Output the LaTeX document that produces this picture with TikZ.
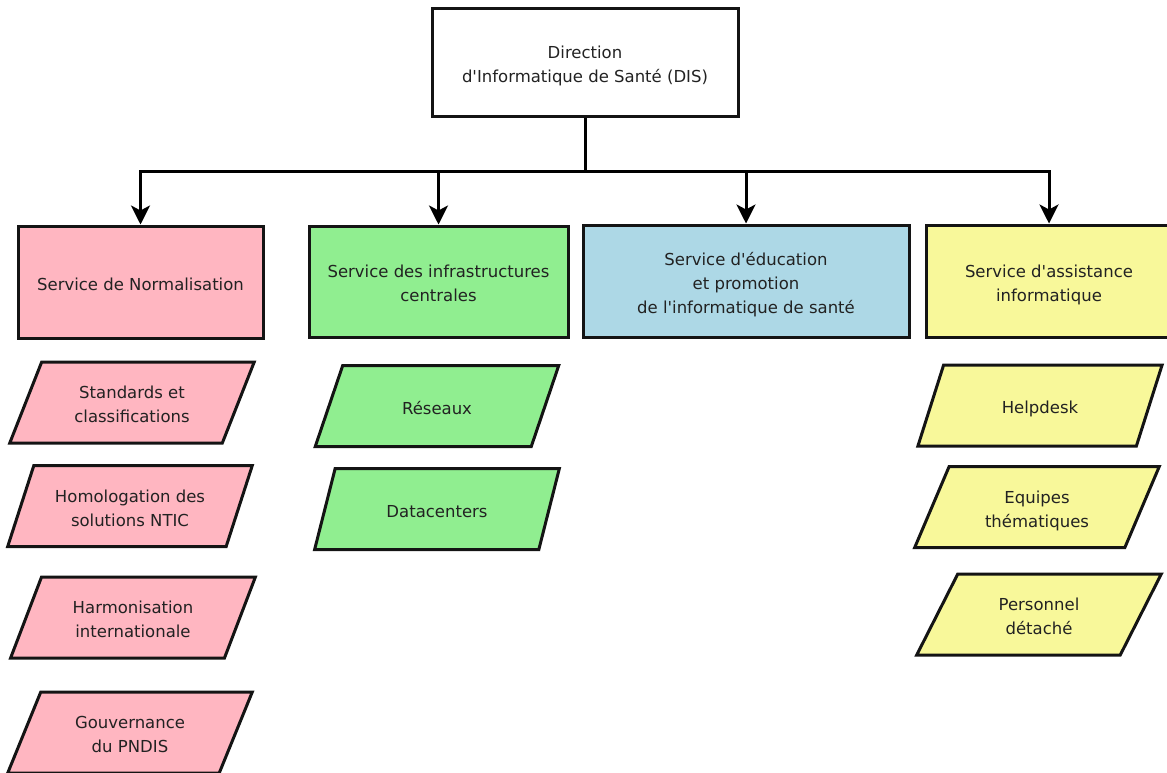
\documentclass[tikz,border=0pt]{standalone}
\usepackage{fontspec}
\setmainfont{DejaVu Sans}[Ligatures=TeXOff]
\usetikzlibrary{shapes.geometric,arrows.meta}

\definecolor{pinkfill}{HTML}{FFB6C1}
\definecolor{greenfill}{HTML}{90EE90}
\definecolor{bluefill}{HTML}{ADD8E6}
\definecolor{yellowfill}{HTML}{F8F89A}
\definecolor{inkline}{HTML}{141414}
\definecolor{inktext}{HTML}{222222}

% centred block of lines, set slightly below the node centre
\newcommand{\blocktext}[1]{\raisebox{-3.5pt}[\height][\depth]{\begin{tabular}{@{}c@{}}#1\end{tabular}}}

\tikzset{
  box/.style={draw=inkline, line width=3pt, rectangle,
    text=inktext, font=\fontsize{16.5}{24}\selectfont},
  unit/.style={draw=inkline, line width=3pt, trapezium,
    trapezium left angle=67, trapezium right angle=113,
    trapezium stretches=true, text=inktext,
    minimum width=245pt, minimum height=81pt, inner sep=0pt,
    font=\fontsize{16.5}{24}\selectfont},
  conn/.style={draw=black, line width=3pt},
  arrowconn/.style={conn, -{Stealth[length=19pt, width=19pt, inset=5pt]}},
}

\begin{document}
\begin{tikzpicture}[x=1pt, y=-1pt]
\useasboundingbox (0,0) rectangle (1167,772);

% Direction
\node[box, minimum width=306pt, minimum height=108pt] (dis) at (585,62)
  {\blocktext{Direction\\d'Informatique de Santé (DIS)}};

% Services
\node[box, fill=pinkfill, minimum width=245pt, minimum height=112pt] (norm) at (140.5,282)
  {\blocktext{Service de Normalisation}};
\node[box, fill=greenfill, minimum width=259pt, minimum height=111pt] (infra) at (438.5,281.5)
  {\blocktext{Service des infrastructures\\centrales}};
\node[box, fill=bluefill, minimum width=326pt, minimum height=112pt] (educ) at (746,281)
  {\blocktext{Service d'éducation\\et promotion\\de l'informatique de santé}};
\node[box, fill=yellowfill, minimum width=246pt, minimum height=112pt] (assist) at (1049,281)
  {\blocktext{Service d'assistance\\informatique}};

% Connectors
\coordinate (bus) at (585,171);
\draw[conn] (dis.south) -- (bus);
\draw[arrowconn] (bus) -| (norm.north);
\draw[arrowconn] (bus) -| (infra.north);
\draw[arrowconn] (bus) -| (educ.north);
\draw[arrowconn] (bus) -| (assist.north);

% Normalisation units
\node[unit, fill=pinkfill] (std) at (132,402.5) {\blocktext{Standards et\\classifications}};
\node[unit, fill=pinkfill] (homo) at (130,506) {\blocktext{Homologation des\\solutions NTIC}};
\node[unit, fill=pinkfill] (harmo) at (133,617.5) {\blocktext{Harmonisation\\internationale}};
\node[unit, fill=pinkfill] (gouv) at (130,732.5) {\blocktext{Gouvernance\\du PNDIS}};

% Infrastructure units
\node[unit, fill=greenfill] (res) at (437,406) {\blocktext{Réseaux}};
\node[unit, fill=greenfill] (dc) at (437,509) {\blocktext{Datacenters}};

% Assistance units
\node[unit, fill=yellowfill] (help) at (1040,405.5) {\blocktext{Helpdesk}};
\node[unit, fill=yellowfill] (equip) at (1037,507) {\blocktext{Equipes\\thématiques}};
\node[unit, fill=yellowfill] (perso) at (1039,614.5) {\blocktext{Personnel\\détaché}};
\end{tikzpicture}
\end{document}
